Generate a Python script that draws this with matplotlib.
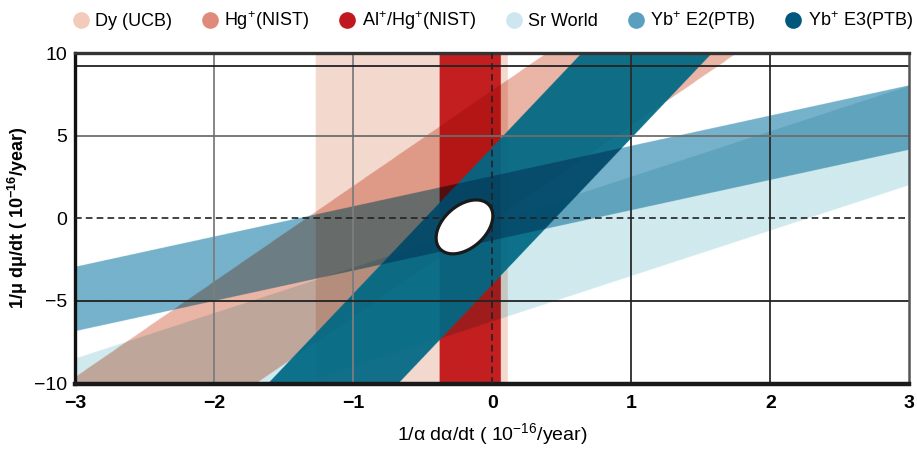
import numpy as np
import matplotlib
matplotlib.use("Agg")
import matplotlib.pyplot as plt
from matplotlib.colors import to_rgb
from matplotlib.lines import Line2D

plt.rcParams['font.family'] = ['Liberation Sans', 'DejaVu Sans']
plt.rcParams['mathtext.fontset'] = 'custom'
plt.rcParams['mathtext.rm'] = 'Liberation Sans'
plt.rcParams['mathtext.bf'] = 'Liberation Sans:bold'

# legend entries
names = ['Dy (UCB)', 'Hg$^{+}$(NIST)', 'Al$^{+}$/Hg$^{+}$(NIST)', 'Sr World',
         'Yb$^{+}$ E2(PTB)', 'Yb$^{+}$ E3(PTB)']
legend_colors = ['#f2cbbb', '#e08a7b', '#c0181f', '#cde6f0', '#5a9fbf', '#00577d']

# vertical bands: constraint on alpha only (centre, half width), 1e-16/yr
dy_alpha = (-0.58, 0.69)
al_alpha = (-0.16, 0.22)

# slanted bands: mu = slope * alpha + offset +- half width
sr_band = (2.75, -3.22, 3.0)
hg_band = (5.78, 3.80, 3.95)
e2_band = (1.83, 0.625, 1.945)
e3_band = (8.86, 0.17, 4.15)

# combined constraint (centre, sigma_alpha, sigma_mu, correlation)
ell_center = (-0.20, -0.52)
ell_sigma = (0.204, 1.63)
ell_rho = 0.41

x_ticks = [-3, -2, -1, 0, 1, 2, 3]
y_ticks = [-10, -5, 0, 5, 10]

fig = plt.figure(figsize=(9.17, 4.5), dpi=100)
ax = fig.add_axes([0.0821, 0.1476, 0.9095, 0.7346])

# build the overlapping bands as a multiplied colour image
xs = np.linspace(-3, 3, 2400)
ys = np.linspace(-10, 10, 1400)
X, Y = np.meshgrid(xs, ys)
img = np.ones(X.shape + (3,))


def vband(b):
    return np.abs(X - b[0]) <= b[1]


def sband(b):
    return np.abs(Y - (b[0] * X + b[1])) <= b[2]


def multiply(mask, color):
    img[mask] *= np.array(to_rgb(color))


def over(mask, color, a):
    img[mask] = a * np.array(to_rgb(color)) + (1 - a) * img[mask]


multiply(vband(dy_alpha), '#f3d9ce')
over(vband(al_alpha), '#c41f20', 1.0)
multiply(sband(sr_band), '#d0eaee')
multiply(sband(hg_band), '#eab5a6')
over(sband(e3_band), '#006884', 0.93)
multiply(sband(e2_band), '#76b2cb')

ax.imshow(img, extent=[-3, 3, -10, 10], origin='lower', aspect='auto',
          interpolation='antialiased', zorder=0)

# grid
for gx in [-2, -1]:
    ax.axvline(gx, color='#7d7d7d', lw=1.3, zorder=2)
for gx in [1, 2]:
    ax.axvline(gx, color='#2b2b2b', lw=1.3, zorder=2)
ax.axhline(5, color='#6e6e6e', lw=1.3, zorder=2)
ax.axhline(-5, color='#222222', lw=1.3, zorder=2)
ax.axhline(9.23, color='#222222', lw=1.3, zorder=2)
ax.axhline(0, color='#222222', lw=1.2, ls=(0, (4, 2.5)), zorder=3)
ax.axvline(0, color='#222222', lw=1.2, ls=(0, (4, 2.5)), zorder=3)

# ellipse of the combined fit
t = np.linspace(0, 2 * np.pi, 300)
sx, sy = ell_sigma
cov = np.array([[sx ** 2, ell_rho * sx * sy], [ell_rho * sx * sy, sy ** 2]])
L = np.linalg.cholesky(cov)
pts = L @ np.vstack([np.cos(t), np.sin(t)])
ax.fill(ell_center[0] + pts[0], ell_center[1] + pts[1], facecolor='white',
        edgecolor='#1a1a1a', lw=2.3, zorder=5)

ax.set_xlim(-3, 3)
ax.set_ylim(-10, 10)
ax.set_xticks(x_ticks)
ax.set_yticks(y_ticks)
ax.tick_params(length=0, labelsize=14)
ax.tick_params(axis='x', pad=8)
ax.tick_params(axis='y', pad=6)
for lab in ax.get_xticklabels():
    lab.set_fontweight('bold')

ax.spines['left'].set_linewidth(2.4)
ax.spines['left'].set_color('#111111')
ax.spines['top'].set_linewidth(2.4)
ax.spines['top'].set_color('#333333')
ax.spines['bottom'].set_linewidth(3.2)
ax.spines['bottom'].set_color('#1a1a1a')
ax.spines['right'].set_linewidth(1.8)
ax.spines['right'].set_color('#555555')

ax.set_xlabel('1/α dα/dt ( 10$^{-16}$/year)', fontsize=14, labelpad=7)
ax.set_ylabel(r'1/μ dμ/dt ( 10$^{\mathbf{-16}}$/year)', fontsize=13,
              fontweight='bold', labelpad=3)

handles = [Line2D([], [], ls='none', marker='o', markersize=12,
                  markerfacecolor=c, markeredgecolor='none') for c in legend_colors]
fig.legend(handles, names, loc='center', bbox_to_anchor=(0.5376, 0.953), ncol=6,
           frameon=False, fontsize=13, handlelength=0.8, handletextpad=0.4,
           columnspacing=1.7)

fig.savefig('out.png', dpi=100)
